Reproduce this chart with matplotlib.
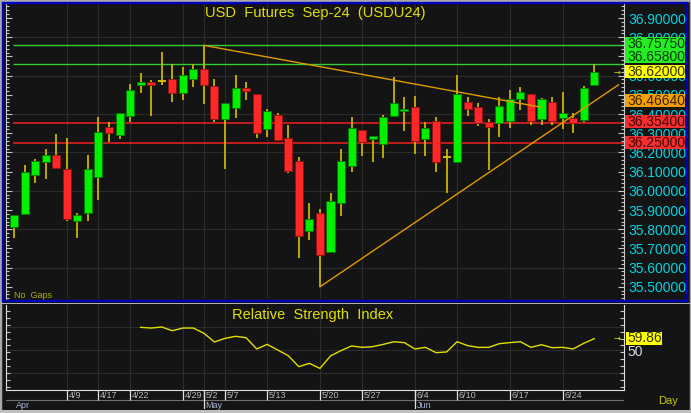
import numpy as np
import matplotlib
matplotlib.use("Agg")
import matplotlib.pyplot as plt
from matplotlib.patches import Rectangle
from matplotlib.ticker import MultipleLocator, FormatStrFormatter

plt.rcParams['font.family'] = ['Liberation Sans', 'DejaVu Sans']

# daily candles, USDU24
opens = [35.813, 35.881, 36.082, 36.152, 36.186, 36.114, 35.843, 35.883, 36.074, 36.334,
         36.292, 36.391, 36.553, 36.565, 36.570, 36.584, 36.511, 36.581, 36.633, 36.546,
         36.372, 36.433, 36.534, 36.502, 36.324, 36.393, 36.273, 36.153, 35.792, 35.883,
         35.683, 35.935, 36.131, 36.315, 36.272, 36.242, 36.391, 36.414, 36.435, 36.270,
         36.365, 36.178, 36.152, 36.464, 36.435, 36.360, 36.351, 36.363, 36.478, 36.504,
         36.372, 36.464, 36.381, 36.381, 36.369, 36.551]
highs = [35.874, 36.134, 36.166, 36.216, 36.294, 36.275, 35.886, 36.186, 36.383, 36.360,
         36.405, 36.555, 36.615, 36.577, 36.725, 36.660, 36.643, 36.660, 36.7575, 36.584,
         36.458, 36.603, 36.565, 36.504, 36.424, 36.403, 36.343, 36.174, 35.938, 35.903,
         35.987, 36.216, 36.383, 36.317, 36.287, 36.395, 36.591, 36.487, 36.494, 36.357,
         36.386, 36.216, 36.603, 36.491, 36.456, 36.374, 36.491, 36.525, 36.542, 36.506,
         36.485, 36.491, 36.513, 36.403, 36.546, 36.658]
lows = [35.752, 35.878, 36.042, 36.061, 36.118, 35.844, 35.752, 35.843, 35.952, 36.256,
        36.272, 36.360, 36.511, 36.391, 36.551, 36.461, 36.473, 36.542, 36.450, 36.360,
        36.112, 36.381, 36.473, 36.273, 36.282, 36.261, 36.094, 35.652, 35.744, 35.500,
        35.683, 35.870, 36.100, 36.181, 36.150, 36.172, 36.391, 36.311, 36.192, 36.183,
        36.100, 35.990, 36.143, 36.389, 36.337, 36.110, 36.282, 36.325, 36.421, 36.342,
        36.344, 36.342, 36.320, 36.302, 36.360, 36.551]
closes = [35.874, 36.096, 36.155, 36.186, 36.120, 35.851, 35.874, 36.114, 36.305, 36.303,
          36.403, 36.525, 36.565, 36.553, 36.570, 36.511, 36.603, 36.633, 36.553, 36.372,
          36.456, 36.534, 36.522, 36.303, 36.414, 36.265, 36.103, 35.765, 35.853, 35.664,
          35.945, 36.153, 36.325, 36.252, 36.285, 36.383, 36.456, 36.424, 36.261, 36.325,
          36.152, 36.178, 36.504, 36.424, 36.351, 36.332, 36.443, 36.476, 36.513, 36.363,
          36.476, 36.363, 36.403, 36.355, 36.534, 36.620]

# RSI starts at bar 12
rsi_start = 12
rsi = [69.7, 69.1, 70.0, 66.8, 69.1, 69.1, 64.5, 57.0, 60.1, 61.9, 60.7, 50.9, 54.9, 50.0,
       45.0, 35.5, 38.4, 34.0, 44.8, 49.5, 53.5, 52.3, 52.9, 54.9, 57.2, 56.4, 50.9, 52.3,
       47.7, 48.3, 57.2, 53.8, 52.3, 52.3, 55.5, 56.4, 57.2, 52.3, 54.6, 52.0, 52.3, 50.9,
       55.8, 59.86]

date_pos = [5, 8, 11, 16, 18, 20, 24, 29, 33, 38, 42, 47, 52]
date_lbl = ['4/9', '4/17', '4/22', '4/29', '5/2', '5/7', '5/13', '5/20', '5/27',
            '6/4', '6/10', '6/17', '6/24']
month_pos = [0, 18, 38]
month_lbl = ['Apr', 'May', 'Jun']

# levels and trendlines (bar index, price)
green_levels = [36.7575, 36.658]
red_levels = [36.354, 36.25]
trend_down = ([18, 50], [36.7575, 36.435])
trend_up = ([29, 57.3], [35.50, 36.552])

W, H = 691, 413
BG = '#141414'
GRID = '#2c2c2c'
AXC = '#c8c8c8'


def fx(x):
    return x / W


def fy(y):
    return 1 - y / H


def axrect(x0, y0, x1, y1):
    return [fx(x0), fy(y1), fx(x1) - fx(x0), fy(y0) - fy(y1)]


fig = plt.figure(figsize=(W / 100, H / 100), dpi=100, facecolor=BG)
xlim = (-0.76, 57.82)

# ---- main price panel ----
ax = fig.add_axes(axrect(6, 4, 624, 299), facecolor=BG)
ax.set_xlim(*xlim)
ax.set_ylim(36.9 - 281 / 192, 36.9 + 14 / 192)
for y in np.arange(35.6, 36.81, 0.2):
    ax.axhline(y, color=GRID, lw=0.8, zorder=0)
for x in date_pos:
    ax.axvline(x, color=GRID, lw=0.8, zorder=0)

idx = np.arange(len(opens))
o, h, l, c = map(np.array, (opens, highs, lows, closes))
ax.vlines(idx, l, h, color='#c8b400', lw=1.3, zorder=2)
bot = np.minimum(o, c)
ht = np.abs(c - o)
up = (c > o)
dn = (c < o)
ax.bar(idx[up], ht[up], bottom=bot[up], width=0.76, color='#00f000',
       edgecolor='#007800', lw=0.6, zorder=3)
ax.bar(idx[dn], ht[dn], bottom=bot[dn], width=0.76, color='#ff2828',
       edgecolor='#901010', lw=0.6, zorder=3)
doji = (c == o)
ax.hlines(c[doji], idx[doji] - 0.38, idx[doji] + 0.38, color='#e0c800', lw=1.3, zorder=3)

ax.hlines(green_levels, -0.1, xlim[1], color='#30d030', lw=1.0, zorder=1)
ax.hlines(red_levels, -0.1, xlim[1], color='#e02020', lw=1.2, zorder=1)
ax.plot(*trend_down, color='#e09a00', lw=1.0, zorder=4)
ax.plot(*trend_up, color='#e09a00', lw=1.0, zorder=4)

ax.yaxis.set_major_locator(MultipleLocator(0.1))
ax.yaxis.set_minor_locator(MultipleLocator(0.02))
ax.yaxis.set_major_formatter(FormatStrFormatter('%.5f'))
ax.tick_params(axis='y', which='both', direction='in', left=True, right=True,
               labelleft=False, labelright=True, color=AXC, width=0.8)
ax.tick_params(axis='y', which='major', length=4, labelsize=10,
               labelcolor='#00d4e4', pad=3)
ax.tick_params(axis='y', which='minor', length=2)
ax.tick_params(axis='x', which='both', bottom=False, labelbottom=False)
for s in ['top', 'bottom']:
    ax.spines[s].set_visible(False)
for s in ['left', 'right']:
    ax.spines[s].set_color(AXC)

ax.text(0.988, 36.62, '→', transform=ax.get_yaxis_transform(), color='#e0e000',
        fontsize=6, va='center', ha='center', family='DejaVu Sans')

# ---- RSI panel ----
ar = fig.add_axes(axrect(6, 305, 624, 390), facecolor=BG)
ar.set_xlim(*xlim)
ar.set_ylim(50 - 40 / 1.15, 50 + 45 / 1.15)
for y in [30, 50, 70]:
    ar.axhline(y, color=GRID, lw=0.8, zorder=0)
for x in date_pos:
    ar.axvline(x, color=GRID, lw=0.8, zorder=0)
ar.plot(np.arange(rsi_start, rsi_start + len(rsi)), rsi, color='#e0e000', lw=1.0)
ar.yaxis.set_major_locator(MultipleLocator(6))
ar.tick_params(axis='y', which='both', direction='in', left=True, right=True,
               labelleft=False, labelright=False, color=AXC, length=3, width=0.8)
ar.tick_params(axis='x', bottom=False, labelbottom=False)
ar.spines['top'].set_visible(False)
for s in ['left', 'right', 'bottom']:
    ar.spines[s].set_color('#e0e0e0')
ar.text(0.988, 59.86, '→', transform=ar.get_yaxis_transform(), color='#e0e000',
        fontsize=6, va='center', ha='center', family='DejaVu Sans')

# ---- date rows ----
ad = fig.add_axes(axrect(6, 390, 624, 409), facecolor=BG)
ad.set_xlim(*xlim)
ad.set_ylim(19, 0)
ad.axis('off')
ad.axhline(10, color='#707070', lw=0.8)
for x, t in zip(date_pos, date_lbl):
    ad.vlines(x, 0, 10, color='#e0e0e0', lw=0.9)
    ad.text(x + 0.15, 5.5, t, color='#b8b8b8', fontsize=6.5, va='center', ha='left')
for x, t in zip(month_pos, month_lbl):
    if x > 0:
        ad.vlines(x, 0, 19, color='#e0e0e0', lw=0.9)
    ad.text(x + 0.15, 15, t, color='#aab4d4', fontsize=6.5, va='center', ha='left')

# ---- frames ----
fig.add_artist(Rectangle((0, 0), 1, 1, transform=fig.transFigure, fill=False,
                         ec='#a8a8a8', lw=2.5, zorder=5))
fig.add_artist(Rectangle((fx(2.8), fy(300.5)), fx(686.5) - fx(2.8), fy(2.8) - fy(300.5),
                         transform=fig.transFigure, fill=False, ec='#0000c0', lw=1.7, zorder=5))
fig.add_artist(Rectangle((fx(0), fy(304)), 1, fy(302.5) - fy(304), transform=fig.transFigure,
                         fc='#b0b0b0', ec='none', zorder=5))
fig.add_artist(Rectangle((0, 0), 1, fy(409.5), transform=fig.transFigure,
                         fc='#c0c0c0', ec='none', zorder=5))

# ---- price label boxes ----
boxes = [
    (37, 50, '36.75750', '#22ee22', '#0a3a0a'),
    (50, 63, '36.65800', '#22ee22', '#0a3a0a'),
    (65, 78, '36.62000', '#ffff00', '#303000'),
    (94, 107, '36.46640', '#f5a000', '#3a2000'),
    (115, 128, '36.35400', '#f03030', '#4a0000'),
    (136, 149, '36.25000', '#f03030', '#4a0000'),
]
for y0, y1, t, fc, tc in boxes:
    fig.add_artist(Rectangle((fx(625), fy(y1)), fx(685) - fx(625), fy(y0) - fy(y1),
                             transform=fig.transFigure, fc=fc, ec='none', zorder=6))
    fig.text(fx(627), fy((y0 + y1) / 2 + 0.5), t, color=tc, fontsize=10,
             va='center', ha='left', zorder=7)

fig.add_artist(Rectangle((fx(626), fy(344.5)), fx(662) - fx(626), fy(331.5) - fy(344.5),
                         transform=fig.transFigure, fc='#ffff00', ec='none', zorder=6))
fig.text(fx(627), fy(338.5), '59.86', color='#303000', fontsize=10, va='center', zorder=7)
fig.text(fx(627), fy(351.5), '50', color='#d8d8e8', fontsize=10, va='center', zorder=7)

# ---- titles ----
fig.text(fx(315), fy(13), 'USD  Futures  Sep-24  (USDU24)', color='#e0e000',
         fontsize=10.5, ha='center', va='center')
fig.text(fx(313), fy(315), 'Relative  Strength  Index', color='#e0e000',
         fontsize=10.5, ha='center', va='center')
fig.text(fx(14), fy(296), 'No  Gaps', color='#a8b400', fontsize=6.5, va='center')
fig.text(fx(668), fy(401), 'Day', color='#c8c800', fontsize=8, ha='center', va='center')

fig.savefig('out.png', dpi=100, facecolor=BG)
